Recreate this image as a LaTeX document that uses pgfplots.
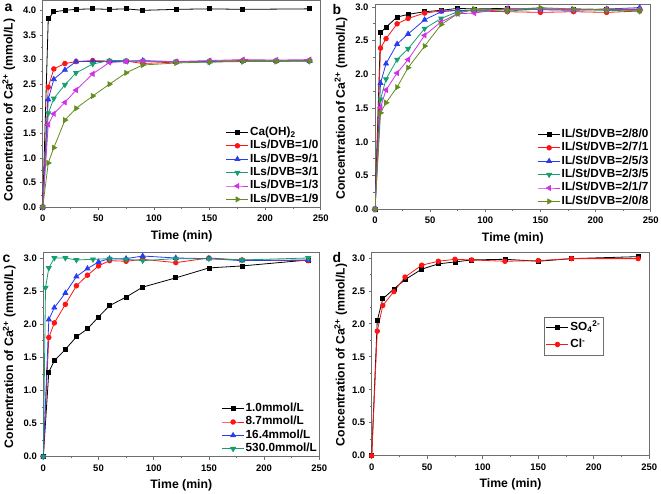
\documentclass[border=0pt]{standalone}
\usepackage{fontspec}
\setmainfont{Liberation Sans}
\usepackage{pgfplots}
\pgfplotsset{compat=1.18}
\definecolor{cred}{RGB}{255,20,20}
\definecolor{cblue}{RGB}{40,60,240}
\definecolor{cgreen}{RGB}{20,160,110}
\definecolor{cmag}{RGB}{210,50,230}
\definecolor{colive}{RGB}{100,140,30}
\definecolor{axgray}{RGB}{110,110,110}
\newcommand{\labfont}{\fontsize{12.3}{13}\selectfont\bfseries}
\pgfplotsset{
  ylab/.style 2 args={every axis y label/.style={at={(axis description cs:0,#2)}, xshift=#1, rotate=90, anchor=center, font=\labfont}},
  panel/.style={
    scale only axis,
    xmin=0, xmax=250, ymin=0,
    xtick={0,50,...,250},
    ytick={0,0.5,...,4.0},
    minor x tick num=1,
    minor y tick num=1,
    tick align=outside,
    tick pos=left,
    axis line style={axgray, line width=0.8bp},
    major tick length=3bp,
    minor tick length=1.8bp,
    every tick/.style={axgray, line width=0.8bp},
    /pgf/number format/assume math mode=true,
    xticklabel={\pgfmathprintnumber{\tick}},
    yticklabel={\pgfmathprintnumber[fixed,fixed zerofill,precision=1]{\tick}},
    ticklabel style={font=\fontsize{9.5}{10}\selectfont\bfseries},
    xticklabel style={yshift=-1.5bp},
    every axis x label/.style={at={(axis description cs:0.5,0)}, yshift=-32bp, anchor=base, font=\labfont},
    ylab={-34bp}{0.5},
    xlabel={Time (min)},
    ylabel={Concentration of Ca\textsuperscript{2+} (mmol/L)},
    legend cell align=left,
    legend image code/.code={\draw[mark repeat=2,mark phase=2] plot coordinates {(0bp,0bp) (11bp,0bp) (22bp,0bp)};},
    legend style={at={(1,0)}, anchor=south east, draw=none, fill=none,
      font=\fontsize{11.8}{12}\selectfont\bfseries, inner sep=1bp, row sep=0bp,
      nodes={inner sep=1.2bp, text height=8.5bp, text depth=2.5bp}},
  },
  sK/.style={black, line width=0.8bp, mark=square*, mark size=2bp, mark options={solid, fill=black}},
  sR/.style={cred, line width=0.8bp, mark=*, mark size=2.3bp, mark options={solid, fill=cred}},
  sB/.style={cblue, line width=0.8bp, mark=triangle*, mark size=2.8bp, mark options={solid, fill=cblue}},
  sG/.style={cgreen, line width=0.8bp, mark=triangle*, mark size=2.8bp, mark options={solid, fill=cgreen, rotate=180}},
  sM/.style={cmag, line width=0.8bp, mark=triangle*, mark size=2.8bp, mark options={solid, fill=cmag, rotate=90}},
  sO/.style={colive, line width=0.8bp, mark=triangle*, mark size=2.8bp, mark options={solid, fill=colive, rotate=-90}},
}
\begin{document}
\begin{tikzpicture}[x=1bp,y=1bp]
\useasboundingbox (0,0) rectangle (661,494);

% ---------- panel a ----------
\begin{axis}[panel, at={(42.7bp,286.7bp)}, anchor=south west, width=278bp, height=206.8bp, ymax=4.2,
  ylab={-34bp}{0.471}]
\addplot[sK] coordinates {(0,0) (5,3.83) (10,3.97) (20,4.00) (30,4.02) (45,4.03) (60,4.02) (75,4.03) (90,4.00) (120,4.02) (150,4.03) (180,4.02) (240,4.03)};
\addlegendentry{Ca(OH)\textsubscript{2}}
\addplot[sR] coordinates {(0,0) (5,2.44) (10,2.81) (20,2.92) (30,2.96) (45,2.98) (60,2.97) (75,2.97) (90,2.92) (120,2.95) (150,2.97) (180,2.98) (210,2.97) (240,2.98)};
\addlegendentry{ILs/DVB=1/0}
\addplot[sB] coordinates {(0,0) (5,2.19) (10,2.60) (20,2.79) (30,2.96) (45,2.96) (60,2.96) (75,2.96) (90,2.98) (120,2.95) (150,2.96) (180,2.97) (210,2.97) (240,2.97)};
\addlegendentry{ILs/DVB=9/1}
\addplot[sG] coordinates {(0,0) (5,1.91) (10,2.21) (20,2.49) (30,2.73) (45,2.91) (60,2.98) (75,2.98) (90,2.97) (120,2.96) (150,2.95) (180,2.97) (210,2.98) (240,2.97)};
\addlegendentry{ILs/DVB=3/1}
\addplot[sM] coordinates {(0,0) (5,1.68) (10,1.90) (20,2.13) (30,2.38) (45,2.71) (60,2.94) (75,2.96) (90,2.97) (120,2.96) (150,2.98) (180,3.00) (210,2.99) (240,3.00)};
\addlegendentry{ILs/DVB=1/3}
\addplot[sO] coordinates {(0,0) (5,0.90) (10,1.21) (20,1.77) (30,2.01) (45,2.26) (60,2.50) (75,2.73) (90,2.89) (120,2.93) (150,2.95) (180,2.96) (210,2.96) (240,2.97)};
\addlegendentry{ILs/DVB=1/9}
\end{axis}

% ---------- panel b ----------
\begin{axis}[panel, at={(375bp,284.7bp)}, anchor=south west, width=275.7bp, height=205bp, ymax=3.04,
  ylab={-34bp}{0.493}]
\addplot[sK] coordinates {(0,0) (5,2.62) (10,2.70) (20,2.85) (30,2.89) (45,2.93) (60,2.95) (75,2.98) (90,2.97) (120,2.98) (150,2.97) (180,2.97) (210,2.96) (240,2.96)};
\addlegendentry{IL/St/DVB=2/8/0}
\addplot[sR] coordinates {(0,0) (5,2.39) (10,2.53) (20,2.75) (30,2.83) (45,2.91) (60,2.94) (75,2.95) (90,2.94) (120,2.93) (150,2.92) (180,2.93) (210,2.92) (240,2.94)};
\addlegendentry{IL/St/DVB=2/7/1}
\addplot[sB] coordinates {(0,0) (5,1.87) (10,2.16) (20,2.45) (30,2.60) (45,2.81) (60,2.93) (75,2.95) (90,2.95) (120,2.97) (150,2.96) (180,2.95) (210,2.97) (240,2.99)};
\addlegendentry{IL/St/DVB=2/5/3}
\addplot[sG] coordinates {(0,0) (5,1.63) (10,1.93) (20,2.22) (30,2.38) (45,2.68) (60,2.83) (75,2.93) (90,2.95) (120,2.94) (150,2.97) (180,2.96) (210,2.95) (240,2.94)};
\addlegendentry{IL/St/DVB=2/3/5}
\addplot[sM] coordinates {(0,0) (5,1.51) (10,1.77) (20,2.02) (30,2.22) (45,2.58) (60,2.78) (75,2.90) (90,2.91) (120,2.98) (150,2.97) (180,2.96) (210,2.97) (240,2.97)};
\addlegendentry{IL/St/DVB=2/1/7}
\addplot[sO] coordinates {(0,0) (5,1.43) (10,1.58) (20,1.81) (30,2.10) (45,2.42) (60,2.74) (75,2.90) (90,2.97) (120,2.96) (150,2.99) (180,2.97) (210,2.96) (240,2.95)};
\addlegendentry{IL/St/DVB=2/0/8}
\end{axis}

% ---------- panel c ----------
\begin{axis}[panel, at={(43.3bp,37.3bp)}, anchor=south west, width=276bp, height=204bp, ymax=3.08,
  ylab={-34bp}{0.489}]
\addplot[sK] coordinates {(0,0) (5,1.28) (10,1.45) (20,1.62) (30,1.81) (40,1.93) (50,2.11) (60,2.28) (75,2.41) (90,2.56) (120,2.70) (150,2.85) (180,2.88) (240,2.97)};
\addlegendentry{1.0mmol/L}
\addplot[sR] coordinates {(0,0) (5,1.80) (10,2.02) (20,2.30) (30,2.58) (40,2.74) (50,2.88) (60,2.96) (75,2.95) (90,2.98) (120,2.93) (150,3.00) (180,2.97) (240,2.96)};
\addlegendentry{8.7mmol/L}
\addplot[sB] coordinates {(0,0) (5,2.07) (10,2.25) (20,2.47) (30,2.72) (40,2.84) (50,2.94) (60,2.99) (75,2.99) (90,3.03) (120,3.00) (150,2.99) (180,2.96) (240,2.97)};
\addlegendentry{16.4mmol/L}
\addplot[sG] coordinates {(0,0) (2,2.55) (5,2.85) (10,3.00) (20,3.00) (30,2.97) (45,2.98) (60,2.99) (75,2.98) (90,2.96) (120,2.99) (150,2.99) (180,2.97) (240,3.00)};
\addlegendentry{530.0mmol/L}
\end{axis}

% ---------- panel d ----------
\begin{axis}[panel, at={(371.7bp,38.3bp)}, anchor=south west, width=277.6bp, height=203bp, ymax=3.08,
  ylab={-31bp}{0.496},
  legend style={at={(0.837,0.685)}, anchor=north east, draw=axgray, line width=0.6bp, inner sep=2bp,
    nodes={inner sep=1.5bp, text height=10bp, text depth=4bp}}]
\addplot[sK] coordinates {(0,0) (5,2.05) (10,2.38) (20,2.53) (30,2.67) (45,2.83) (60,2.91) (75,2.94) (90,2.97) (120,2.98) (150,2.95) (180,2.99) (240,3.02)};
\addlegendentry{SO\textsubscript{4}\textsuperscript{2-}}
\addplot[sR] coordinates {(0,0) (5,1.89) (10,2.28) (20,2.49) (30,2.71) (45,2.89) (60,2.95) (75,2.98) (90,2.97) (120,2.95) (150,2.96) (180,2.99) (240,2.99)};
\addlegendentry{Cl\textsuperscript{-}}
\end{axis}

% panel letters
\node[anchor=base west, inner sep=0, font=\fontsize{14}{14}\selectfont\bfseries] at (4.5bp,482.5bp) {a};
\node[anchor=base west, inner sep=0, font=\fontsize{14}{14}\selectfont\bfseries] at (332.5bp,479.5bp) {b};
\node[anchor=base west, inner sep=0, font=\fontsize{14}{14}\selectfont\bfseries] at (2.5bp,231bp) {c};
\node[anchor=base west, inner sep=0, font=\fontsize{14}{14}\selectfont\bfseries] at (332.5bp,231bp) {d};
\end{tikzpicture}
\end{document}
